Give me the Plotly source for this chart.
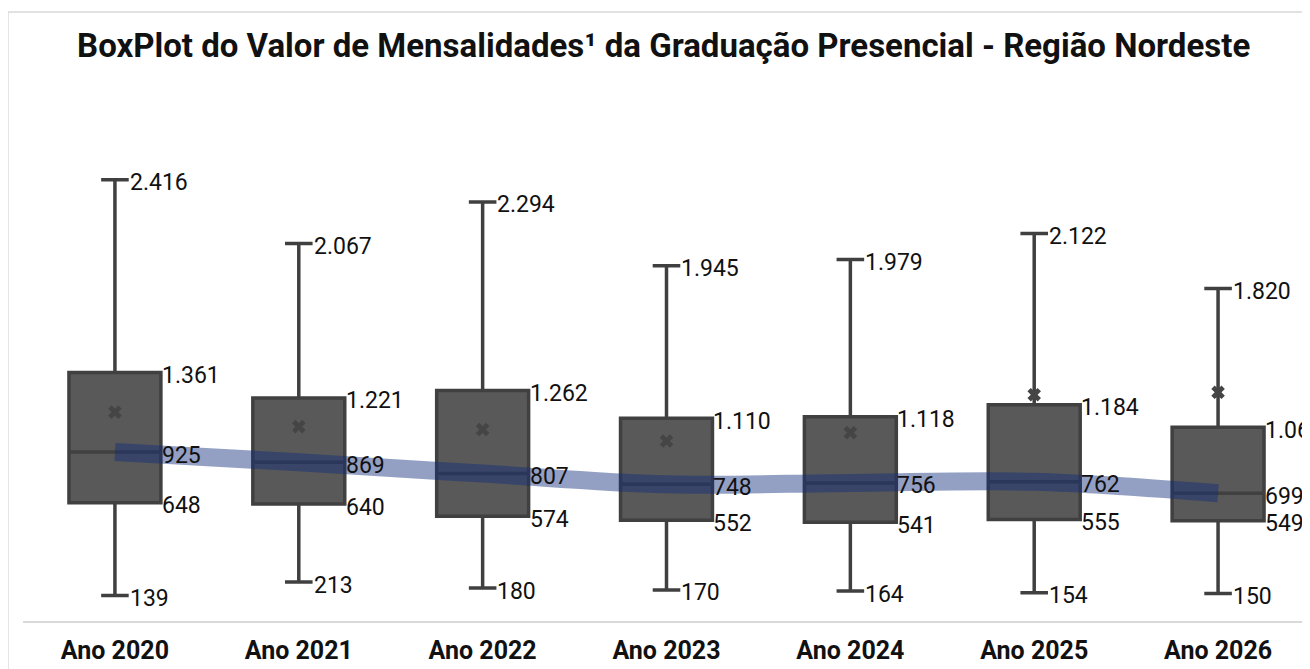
import plotly.graph_objects as go

categories = ["Ano 2020", "Ano 2021", "Ano 2022", "Ano 2023", "Ano 2024", "Ano 2025", "Ano 2026"]
minimo = [139, 213, 180, 170, 164, 154, 150]
q1 = [648, 640, 574, 552, 541, 555, 549]
mediana = [925, 869, 807, 748, 756, 762, 699]
q3 = [1361, 1221, 1262, 1110, 1118, 1184, 1060]
maximo = [2416, 2067, 2294, 1945, 1979, 2122, 1820]
media = [1143, 1064, 1048, 985, 1031, 1239, 1252]

pos = list(range(len(categories)))
BOX_GAP = 0.5
BOX_HALF = (1 - BOX_GAP) / 2
WHISK = 0.3
CAP_HALF = BOX_HALF * WHISK


def fmt(v):
    return f"{v:,}".replace(",", ".")


FONT = "Roboto"
LBL = dict(family=FONT, size=23, color="#111111")

fig = go.Figure()

fig.add_trace(go.Box(
    x=pos, q1=q1, median=mediana, q3=q3,
    lowerfence=minimo, upperfence=maximo,
    fillcolor="#595959",
    line=dict(color="#404040", width=3.5),
    whiskerwidth=WHISK,
    boxpoints=False,
    showlegend=False,
    hoverinfo="skip",
))

fig.add_trace(go.Scatter(
    x=pos, y=media, mode="markers",
    marker=dict(symbol="x", size=12, color="#454545", line=dict(width=0)),
    showlegend=False, hoverinfo="skip",
))

fig.add_trace(go.Scatter(
    x=pos, y=mediana, mode="lines",
    line=dict(color="rgba(15,45,125,0.45)", width=18, shape="spline", smoothing=1),
    showlegend=False, hoverinfo="skip",
))

annotations = []
# labels at box edge (q3, median, q1)
for vals in (q3, mediana, q1):
    for p, v in zip(pos, vals):
        annotations.append(dict(
            x=p + BOX_HALF, y=v, xref="x", yref="y", text=fmt(v), showarrow=False,
            xanchor="left", yanchor="middle", xshift=-1, yshift=-3, font=LBL,
        ))
# labels at whisker caps (max, min)
for vals in (maximo, minimo):
    for p, v in zip(pos, vals):
        annotations.append(dict(
            x=p + CAP_HALF, y=v, xref="x", yref="y", text=fmt(v), showarrow=False,
            xanchor="left", yanchor="middle", xshift=-1, yshift=-3, font=LBL,
        ))

fig.update_layout(
    width=1310, height=661,
    margin=dict(l=15, r=8, t=65, b=48),
    paper_bgcolor="white", plot_bgcolor="white",
    boxgap=BOX_GAP, boxgroupgap=0,
    annotations=annotations,
    title=dict(
        text="BoxPlot do Valor de Mensalidades¹ da Graduação Presencial - Região Nordeste",
        x=0.5005, xanchor="center", y=1 - 37 / 661, yanchor="middle",
        font=dict(family=FONT, size=33, color="#111111", weight="bold"),
    ),
    xaxis=dict(
        range=[-0.5, 6.5], tickmode="array", tickvals=pos, ticktext=categories,
        showgrid=False, zeroline=False, showline=True, linecolor="#d9d9d9", linewidth=2,
        ticks="", ticklabelstandoff=6, automargin=False,
        tickfont=dict(family=FONT, size=25, color="#111111", weight="bold"),
        fixedrange=True,
    ),
    yaxis=dict(
        range=[0, 3000], showgrid=False, zeroline=False, showticklabels=False,
        showline=False, ticks="", fixedrange=True, automargin=False,
    ),
    shapes=[
        dict(type="line", xref="paper", yref="paper", x0=-0.0117, x1=-0.0117, y0=-0.2, y1=1.1113,
             line=dict(color="#d9d9d9", width=1.5)),
        dict(type="line", xref="paper", yref="paper", x0=-0.0117, x1=1.05, y0=1.1113, y1=1.1113,
             line=dict(color="#d9d9d9", width=1.5)),
    ],
)

fig.write_html("out.html")
